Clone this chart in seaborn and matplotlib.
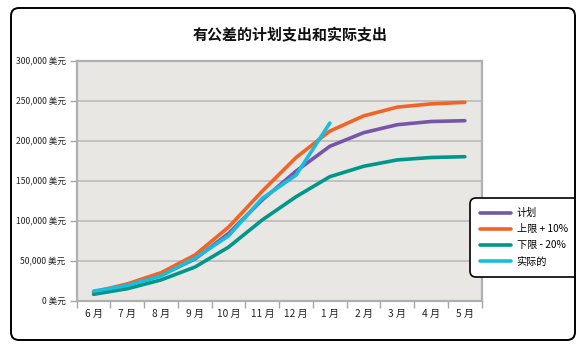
import matplotlib
matplotlib.use("Agg")
import matplotlib.pyplot as plt
import matplotlib.transforms as mtransforms
from matplotlib.patches import FancyBboxPatch, Rectangle
from matplotlib.ticker import FixedLocator, FuncFormatter
import seaborn as sns
import pandas as pd

# ---- data ----
months = ["6 月", "7 月", "8 月", "9 月", "10 月", "11 月", "12 月",
          "1 月", "2 月", "3 月", "4 月", "5 月"]
plan = [10000, 19000, 32000, 52000, 84000, 126000, 162000, 193000,
        210000, 220000, 224000, 225000]
upper = [11000, 21000, 35000, 57000, 92000, 137000, 179000, 212000,
         231000, 242000, 246000, 248000]
lower = [8000, 15000, 26000, 42000, 67000, 101000, 130000, 155000,
         168000, 176000, 179000, 180000]
actual = [12000, 19000, 31000, 53000, 81000, 128000, 157000, 222000]
series_names = ["计划", "上限 + 10%", "下限 - 20%", "实际的"]
title = "有公差的计划支出和实际支出"
yticks = [0, 50000, 100000, 150000, 200000, 250000, 300000]

colors = ["#7556A9", "#F26426", "#00978A", "#18BCDC"]

rows = []
for name, vals in zip(series_names, [plan, upper, lower, actual]):
    for i, v in enumerate(vals):
        rows.append({"pos": i, "month": months[i], "value": v, "series": name})
df = pd.DataFrame(rows)

plt.rcParams["font.family"] = ["Noto Sans CJK SC", "DejaVu Sans"]
plt.rcParams["axes.unicode_minus"] = False

W, H = 587, 350
fig = plt.figure(figsize=(W / 100, H / 100), dpi=100)
fig.patch.set_facecolor("white")

L, R, T, B = 76.7, 481.7, 60.7, 300.7
ax = fig.add_axes([L / W, (H - B) / H, (R - L) / W, (B - T) / H])
ax.set_facecolor("#E8E7E4")

sns.lineplot(data=df, x="pos", y="value", hue="series",
             hue_order=series_names, palette=colors, linewidth=2.6,
             ax=ax, legend=True, solid_capstyle="round",
             solid_joinstyle="round")

ax.set_xlim(-0.5, 11.5)
ax.set_ylim(0, 300000)
ax.set_xlabel("")
ax.set_ylabel("")

# grid
ax.yaxis.set_major_locator(FixedLocator(yticks))
ax.yaxis.set_major_formatter(FuncFormatter(lambda v, p: f"{int(v):,} 美元"))
ax.grid(axis="y", color="#BDBDBD", linewidth=1.3, zorder=0)
ax.set_axisbelow(True)
ax.tick_params(axis="y", length=5, width=1, color="#A6A6A6",
               labelsize=6.2, labelcolor="#222222", pad=3)

ax.xaxis.set_major_locator(FixedLocator(list(range(12))))
ax.set_xticklabels(months)
ax.xaxis.set_minor_locator(FixedLocator([i - 0.5 for i in range(13)]))
ax.tick_params(axis="x", which="major", length=0, labelsize=7.3,
               labelcolor="#222222", pad=6)
ax.tick_params(axis="x", which="minor", length=5, width=1, color="#A6A6A6")

for s in ax.spines.values():
    s.set_color("#B0B0B0")
    s.set_linewidth(1.6)

# legend
leg = ax.get_legend()
handles = leg.legend_handles
leg.remove()
leg = fig.legend(handles, series_names,
                 bbox_to_anchor=(470 / W, (H - 279) / H, 115 / W, 81 / H),
                 loc="upper left", mode="expand", fontsize=7.3,
                 frameon=True, fancybox=True, handlelength=3.0,
                 handletextpad=0.6, labelspacing=0.6, borderpad=1.0,
                 borderaxespad=0)
leg.set_zorder(5)
for h in leg.get_lines():
    h.set_linewidth(2.6)
frame = leg.get_frame()
frame.set_edgecolor("black")
frame.set_linewidth(1.2)
frame.set_facecolor("white")
frame.set_alpha(1)
frame.set_boxstyle("round,pad=0,rounding_size=0.6")

# title
fig.text(290 / W, (H - 35) / H, title, ha="center", va="center",
         fontsize=10.8, fontweight="bold", color="#111111")

# white strip outside the outer border (clips legend)
strip = Rectangle((576, 0), 20, H, transform=mtransforms.IdentityTransform(),
                  facecolor="white", edgecolor="none", zorder=9)
fig.patches.append(strip)

# outer rounded border
box = FancyBboxPatch((11, 10), 564, 332,
                     boxstyle="round,pad=0,rounding_size=8",
                     transform=mtransforms.IdentityTransform(),
                     facecolor="none", edgecolor="black", linewidth=1.4,
                     zorder=10)
fig.patches.append(box)

fig.savefig("out.png", dpi=100)
